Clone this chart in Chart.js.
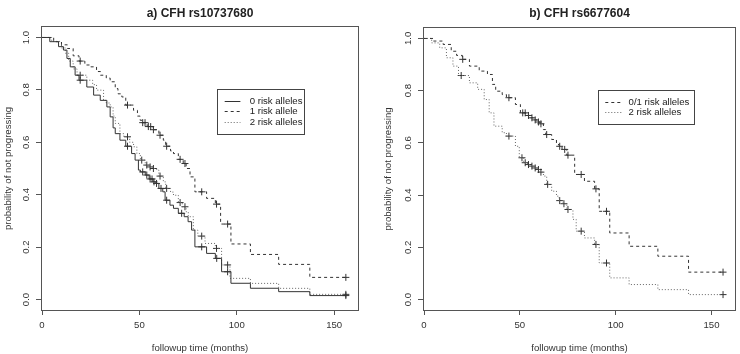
<!DOCTYPE html>
<html>
<head>
<meta charset="utf-8">
<script src="https://cdn.jsdelivr.net/npm/chart.js@4/dist/chart.umd.min.js"></script>
<style>
  body { margin: 0; background: #fff; }
  #wrap { position: relative; width: 740px; height: 354px; }
  canvas { position: absolute; top: 0; }
</style>
</head>
<body>
<div id="wrap">
  <canvas id="left" width="370" height="354" style="left:0"></canvas>
  <canvas id="right" width="370" height="354" style="left:370px"></canvas>
</div>
<script>
// tick labels
const xTicks = [0, 50, 100, 150];
const yTicks = [0, 0.2, 0.4, 0.6, 0.8, 1.0];

// a) CFH rs10737680 : event times (months) and survival after each step
const aTime0 = [0, 4, 8.5, 11, 12.8, 14.5, 17, 19, 23, 26.5, 29.9, 33.3, 35, 36.5, 37.6, 40, 43, 46, 47.8, 49.5, 50.5, 53, 55, 57, 58.5, 60, 62, 63.2, 65.7, 67.5, 70, 73, 75, 76.8, 78.5, 84.5, 89, 92.2, 97, 107, 121.5, 137.5, 156];
const aSurv0 = [1, .984, .965, .952, .92, .888, .856, .837, .811, .78, .76, .735, .697, .655, .633, .608, .585, .557, .532, .494, .487, .475, .46, .449, .443, .424, .411, .379, .36, .348, .329, .316, .297, .265, .201, .176, .157, .106, .062, .043, .030, .015, .015];
const aCens0 = [19.6, 43.9, 51.7, 53.8, 55.5, 56.5, 57.5, 58.8, 61.1, 64, 71.7, 82, 89.7, 95.3, 156];

const aTime1 = [0, 6, 10, 13, 16, 19, 22, 25, 28, 30, 33, 35, 37.6, 39, 41, 43, 47, 49, 50.4, 51.5, 54, 57, 60, 62.3, 63.5, 66, 67.5, 70, 72.5, 74, 76, 78.5, 84.5, 89, 91.7, 97, 107, 121.5, 137.5, 156];
const aSurv1 = [1, .984, .972, .958, .93, .91, .895, .888, .87, .856, .845, .831, .805, .785, .773, .742, .722, .70, .684, .675, .66, .648, .627, .608, .585, .567, .557, .535, .519, .50, .468, .411, .386, .364, .288, .212, .172, .134, .0845, .0845];
const aCens1 = [19.6, 43.9, 51.7, 52.9, 54.6, 55.8, 57.2, 60.6, 64, 70.9, 73.4, 82, 89.6, 95.3, 156];

const aTime2 = [0, 5, 10, 12, 13.7, 16, 18, 23, 26, 28, 31.6, 33, 35, 36.5, 37.6, 40, 42, 45, 47, 48.7, 50.5, 53, 55, 57, 58.9, 60, 62.3, 63.5, 66, 67.5, 70, 72, 74, 75.1, 77.7, 80, 83.7, 89, 92.2, 96.5, 107, 121.5, 137.5, 156];
const aSurv2 = [1, .985, .96, .94, .91, .88, .856, .837, .82, .799, .76, .75, .735, .70, .672, .633, .621, .60, .583, .557, .532, .513, .506, .50, .494, .471, .449, .424, .41, .398, .37, .354, .335, .316, .265, .242, .214, .195, .132, .0807, .0616, .0426, .0197, .0197];
const aCens2 = [19.6, 43.9, 51.2, 53.8, 55.5, 57.2, 60.6, 64, 70.9, 73.4, 82, 89.6, 95.3, 156];

// b) CFH rs6677604
const bTime0 = [0, 4.8, 10, 14.2, 17, 20, 23.7, 28.8, 33.1, 35.7, 37.4, 40.8, 43, 47.7, 50.3, 53, 55, 57, 59, 60.5, 62.3, 63.5, 66.6, 69.1, 70.5, 72, 74.5, 78.6, 83.7, 89, 91.4, 96.9, 107, 122, 138, 156];
const bSurv0 = [1, .99, .977, .951, .935, .92, .894, .875, .862, .824, .798, .785, .773, .747, .715, .705, .696, .688, .68, .673, .651, .632, .613, .594, .587, .575, .553, .479, .453, .424, .338, .255, .204, .166, .105, .105];
const bCens0 = [20.2, 44.3, 51.5, 52.8, 54.5, 56.3, 58, 59.7, 61, 64, 70.8, 73.4, 75.1, 82, 89.7, 95.2, 156];

const bTime1 = [0, 4, 8.2, 11.7, 15.1, 18, 23.7, 28, 31.4, 34, 36.5, 40.8, 43, 47.7, 49.7, 52, 54, 56, 57.5, 59, 60.5, 62.3, 64, 66.6, 69.1, 70.5, 72.5, 74.5, 77.7, 79.4, 83.7, 89, 91.4, 96.9, 107, 122, 138, 156];
const bSurv1 = [1, .983, .964, .926, .894, .858, .83, .805, .766, .715, .664, .639, .626, .587, .543, .524, .517, .511, .504, .498, .488, .473, .441, .415, .396, .379, .367, .345, .307, .262, .236, .211, .14, .083, .0575, .038, .019, .019];
const bCens1 = [19.4, 44.3, 51.1, 52.8, 54.5, 56.3, 58, 59.7, 61, 64.5, 70.8, 73, 75.1, 82, 89.7, 95.2, 156];

const FONT = '"Liberation Sans", Arial, Helvetica, sans-serif';
const INK = '#333';

// value of the step curve at time t (used to put censor marks on the curve)
function survAt(times, surv, t) {
  let v = surv[0];
  for (let i = 0; i < times.length; i++) {
    if (times[i] <= t) v = surv[i];
  }
  return v;
}

function curve(label, times, surv, dash, color) {
  return {
    label: label,
    data: times.map((t, i) => ({ x: t, y: surv[i] })),
    stepped: 'before',
    borderColor: color,
    borderWidth: 1,
    borderDash: dash,
    pointRadius: 0,
    fill: false
  };
}

function marks(times, surv, cens) {
  return {
    label: '',
    censor: true,
    data: cens.map(t => ({ x: t, y: survAt(times, surv, t) })),
    showLine: false,
    pointStyle: 'cross',
    pointRadius: 3.5,
    pointBorderWidth: 1,
    borderColor: INK,
    pointBorderColor: INK
  };
}

// box around the plot, title and the legend inside the plot
const rPlot = {
  id: 'rPlot',
  afterDraw(chart, args, opts) {
    const { ctx, chartArea: a } = chart;
    ctx.save();
    ctx.strokeStyle = '#555';
    ctx.lineWidth = 1;
    ctx.strokeRect(Math.round(a.left) - 0.5, Math.round(a.top) - 0.5,
      Math.round(a.right) - Math.round(a.left) + 1, Math.round(a.bottom) - Math.round(a.top) + 1);

    ctx.fillStyle = '#222';
    ctx.font = 'bold 12px ' + FONT;
    ctx.textAlign = 'center';
    ctx.textBaseline = 'middle';
    ctx.fillText(opts.title, (a.left + a.right) / 2, 14);

    const lg = opts.legend;
    ctx.fillStyle = '#fff';
    ctx.fillRect(lg.x, lg.y, lg.w, lg.h);
    ctx.strokeStyle = '#444';
    ctx.strokeRect(lg.x + 0.5, lg.y + 0.5, lg.w, lg.h);
    ctx.font = '9.6px ' + FONT;
    ctx.textAlign = 'left';
    chart.data.datasets.filter(d => !d.censor).forEach((d, i) => {
      const y = Math.round(lg.y + lg.pad + lg.row * (i + 0.5)) + 0.5;
      ctx.setLineDash(d.borderDash || []);
      ctx.strokeStyle = d.borderColor;
      ctx.beginPath();
      ctx.moveTo(lg.x + lg.line[0], y);
      ctx.lineTo(lg.x + lg.line[1], y);
      ctx.stroke();
      ctx.setLineDash([]);
      ctx.fillStyle = '#222';
      ctx.fillText(d.label, lg.x + lg.textX, y);
    });
    ctx.restore();
  }
};

function panel(id, title, datasets, area, legend, yTitlePad, yTickPad) {
  const W = 370, H = 354;
  const tickFont = { family: FONT, size: 9.6 };
  return new Chart(document.getElementById(id), {
    type: 'line',
    data: { datasets: datasets },
    plugins: [rPlot],
    options: {
      responsive: false,
      animation: false,
      layout: { padding: { top: area.top, right: W - area.right, left: 0, bottom: 0 } },
      plugins: {
        legend: { display: false },
        tooltip: { enabled: false },
        rPlot: { title: title, legend: legend }
      },
      scales: {
        x: {
          type: 'linear',
          min: 0,
          max: 162.24,
          afterBuildTicks: s => { s.ticks = xTicks.map(v => ({ value: v })); },
          afterFit: s => { s.height = H - area.bottom; },
          ticks: { font: tickFont, color: INK, padding: 4.9, maxRotation: 0, callback: v => String(v) },
          grid: { drawOnChartArea: false, drawTicks: true, tickLength: 5, color: '#555' },
          border: { display: false },
          title: { display: true, text: 'followup time (months)', font: tickFont, color: INK, padding: { top: 0, bottom: 0 } }
        },
        y: {
          type: 'linear',
          min: -0.04,
          max: 1.04,
          afterBuildTicks: s => { s.ticks = yTicks.map(v => ({ value: v })); },
          afterFit: s => { s.width = area.left; },
          ticks: { font: tickFont, color: INK, padding: yTickPad, minRotation: 90, maxRotation: 90, crossAlign: 'center', callback: v => v.toFixed(1) },
          grid: { drawOnChartArea: false, drawTicks: true, tickLength: 6, color: '#555' },
          border: { display: false },
          title: { display: true, text: 'probability of not progressing', font: tickFont, color: INK, padding: { top: yTitlePad, bottom: 0 } }
        }
      }
    }
  });
}

panel('left', 'a) CFH rs10737680', [
  curve('0 risk alleles', aTime0, aSurv0, [], INK),
  curve('1 risk allele', aTime1, aSurv1, [3, 3], INK),
  curve('2 risk alleles', aTime2, aSurv2, [1, 2], '#666'),
  marks(aTime0, aSurv0, aCens0),
  marks(aTime1, aSurv1, aCens1),
  marks(aTime2, aSurv2, aCens2)
], { left: 42, top: 27, right: 358, bottom: 310 },
   { x: 217, y: 89, w: 87, h: 45, row: 10.7, pad: 6.4, line: [7.7, 23.4], textX: 32.7 }, 2.2, 2.6);

panel('right', 'b) CFH rs6677604', [
  curve('0/1 risk alleles', bTime0, bSurv0, [3, 3], INK),
  curve('2 risk alleles', bTime1, bSurv1, [1, 2], '#666'),
  marks(bTime0, bSurv0, bCens0),
  marks(bTime1, bSurv1, bCens1)
], { left: 54, top: 28, right: 369, bottom: 310 },
   { x: 228, y: 90, w: 96, h: 34, row: 10.7, pad: 6.3, line: [7.3, 24], textX: 30.6 }, 12.5, 3);
</script>
</body>
</html>
